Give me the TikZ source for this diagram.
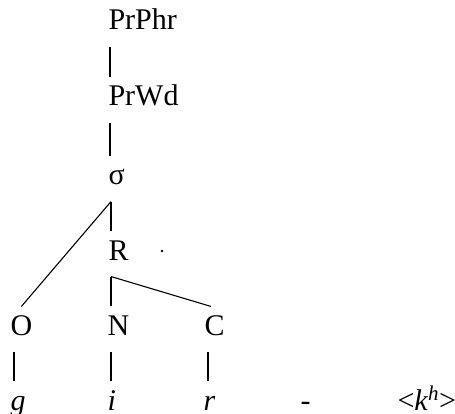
\documentclass[tikz,border=0pt]{standalone}
\usepackage{fontspec}
\setmainfont{Liberation Serif}
\begin{document}
\begin{tikzpicture}[x=1pt,y=-1pt,line width=1.1pt,
    lbl/.style={anchor=base west,inner xsep=0pt,inner ysep=6pt,
      text height=22pt,text depth=10pt,font=\fontsize{30}{34}\selectfont},
    seg/.style={lbl,text depth=0pt}]
  \useasboundingbox (0,0) rectangle (455,414);
  % prosodic levels
  \node[lbl] (phr) at (108,30) {PrPhr};
  \node[lbl] (wd)  at (108,106) {PrWd};
  \node[lbl] (sig) at (108,185) {σ};
  \node[lbl] (r)   at (108,260) {R};
  % onset, nucleus, coda
  \node[lbl] (o) at (10,335) {O};
  \node[lbl] (n) at (107,335) {N};
  \node[lbl] (c) at (204,335) {C};
  % segments
  \node[seg] (g) at (10,410) {\textit{g}};
  \node[seg] (i) at (107,410) {\textit{i}};
  \node[seg] (rr) at (203,410) {\textit{r}};
  \node[seg] (dash) at (300,410) {-};
  \node[seg] (kh) at (397,410) {<\textit{k}\textsuperscript{\textit{h}}>};
  \fill (162,251) circle (1.4pt);
  \draw ([xshift=2pt]phr.south west) -- ([xshift=2pt]wd.north west);
  \draw ([xshift=2pt]wd.south west) -- ([xshift=2pt]sig.north west);
  \draw ([xshift=3pt]sig.south west) -- ([xshift=3pt]r.north west);
  \draw ([xshift=3pt]sig.south west) -- (o.north);
  \draw ([xshift=3pt]r.south west) -- ([xshift=4pt]n.north west);
  \draw ([xshift=3pt]r.south west) -- ([xshift=7pt]c.north west);
  \draw ([xshift=4pt]o.south west) -- ([xshift=4pt]g.north west);
  \draw ([xshift=4pt]n.south west) -- ([xshift=4pt]i.north west);
  \draw ([xshift=4pt]c.south west) -- ([xshift=5pt]rr.north west);
\end{tikzpicture}
\end{document}
